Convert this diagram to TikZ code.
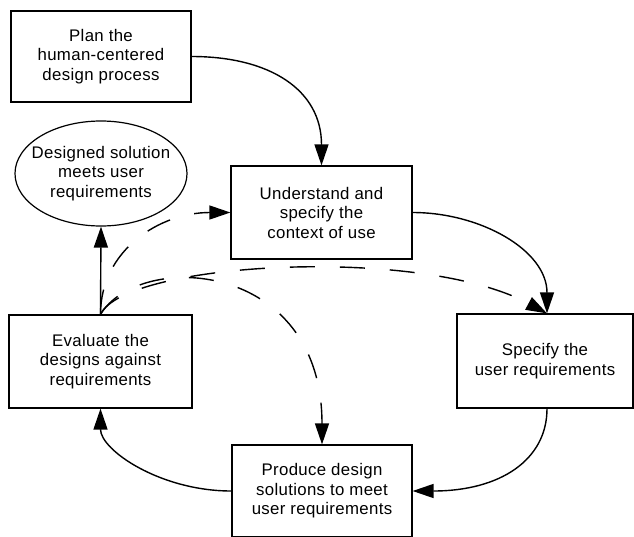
\documentclass[tikz,border=0pt]{standalone}
\usepackage{fontspec}
\setmainfont{Liberation Sans}
\newfontfamily\lab[LetterSpace=2]{Liberation Sans}
\usetikzlibrary{arrows.meta,shapes.geometric}
\begin{document}
\begin{tikzpicture}[x=1pt,y=-1pt,
  txt/.style={align=center,inner sep=0pt,font=\lab\fontsize{16.8}{19.5}\selectfont},
  box/.style={txt,draw,line width=1.2pt,rectangle},
  oval/.style={txt,draw,line width=1.2pt,ellipse,inner xsep=-25pt,inner ysep=-5pt},
  flow/.style={line width=1.4pt,-{Triangle[length=21pt,width=14pt]}},
  dflow/.style={flow,dash pattern=on 25pt off 25pt}]
\fill[white] (0,0) rectangle (634,536);
\useasboundingbox (0,0) rectangle (634,536);
\node[box,minimum width=180pt,minimum height=91pt] (plan) at (101,56.5) {Plan the\\human-centered\\design process};
\node[box,minimum width=181pt,minimum height=93pt] (ctx) at (321.5,212.5) {Understand and\\specify the\\context of use};
\node[box,minimum width=176pt,minimum height=94pt] (spec) at (545,361) {Specify the\\user requirements};
\node[box,minimum width=183pt,minimum height=93pt] (eval) at (100.5,361.5) {Evaluate the\\designs against\\requirements};
\node[box,minimum width=180pt,minimum height=92pt] (prod) at (322,491) {Produce design\\solutions to meet\\user requirements};
\node[oval,minimum width=172pt,minimum height=105pt] (sol) at (101,173.5) {Designed solution\\meets user\\requirements};
% solid connectors
\draw[flow] (plan.east) .. controls (270,56.5) and (321.5,90) .. (ctx.north);
\draw[flow] (ctx.east) .. controls (480,212.5) and (547,250) .. ([xshift=2pt]spec.north);
\draw[flow] ([xshift=2pt]spec.south) .. controls (547,460) and (500,491) .. (prod.east);
\draw[flow] (prod.west) .. controls (160,491) and (100.5,450) .. (eval.south);
\draw[flow] (eval.north) -- (sol.south);
% dashed connectors
\draw[dflow] (eval.north) .. controls (100.5,250) and (160,212.5) .. (ctx.west);
\draw[dflow] (eval.north) .. controls (125,262) and (420,245) .. ([xshift=2pt]spec.north);
\draw[dflow] (eval.north) .. controls (140,250) and (322,260) .. (prod.north);
\end{tikzpicture}
\end{document}
